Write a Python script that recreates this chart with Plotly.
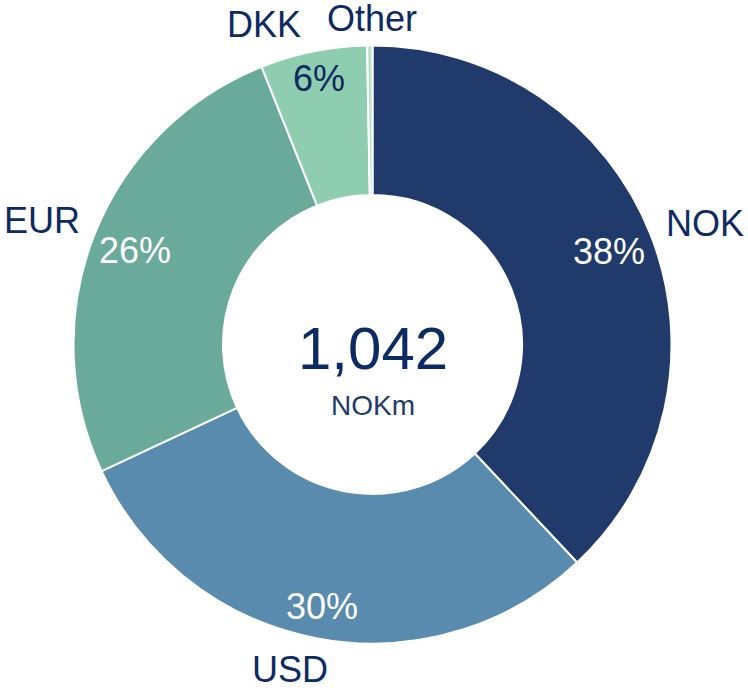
import math
import plotly.graph_objects as go

# ---- data ----
categories = ["NOK", "USD", "EUR", "DKK", "Other"]
values_nokm = [396, 313, 270, 60, 3]
pct_labels = ["38%", "30%", "26%", "6%", ""]
total_label = "1,042"
unit_label = "NOKm"

# ---- styles ----
colors = ["#1F3A6B", "#598BAE", "#6AAA9B", "#8ECDB0", "#B9E0C8"]
pct_colors = ["white", "white", "white", "#0E2A60", "white"]
label_color = "#0C2A64"
FONT = "Liberation Sans, Arial, sans-serif"

W, H = 748, 688
CX, CY, R = 372.5, 344.5, 299.0

# per-label placement tweaks (radius in px, angle offset in deg)
label_r = [354, 335, 353, 338, 326]
label_da = [1.6, 3.4, -1.0, -7.3, 0.4]
pct_r = [254, 267, 255, 271, 0]

fig = go.Figure()
fig.add_trace(go.Pie(
    labels=categories,
    values=values_nokm,
    hole=0.5,
    sort=False,
    direction="clockwise",
    rotation=0,
    marker=dict(colors=colors, line=dict(color="white", width=2)),
    textinfo="none",
    hoverinfo="label+percent",
    showlegend=False,
    domain=dict(x=[(CX - R) / W, (CX + R) / W],
                y=[1 - (CY + R) / H, 1 - (CY - R) / H]),
))

total = sum(values_nokm)
cum = 0.0
annotations = []
for i, (cat, v) in enumerate(zip(categories, values_nokm)):
    mid = (cum + v / 2) / total * 360.0
    cum += v
    a = math.radians(mid + label_da[i])
    px = CX + label_r[i] * math.sin(a)
    py = CY - label_r[i] * math.cos(a)
    annotations.append(dict(x=px / W, y=1 - py / H, xref="paper", yref="paper",
                            text=cat, showarrow=False, xanchor="center", yanchor="middle",
                            font=dict(family=FONT, size=36, color=label_color)))
    if pct_labels[i]:
        a2 = math.radians(mid)
        qx = CX + pct_r[i] * math.sin(a2)
        qy = CY - pct_r[i] * math.cos(a2)
        annotations.append(dict(x=qx / W, y=1 - qy / H, xref="paper", yref="paper",
                                text=pct_labels[i], showarrow=False, xanchor="center", yanchor="middle",
                                font=dict(family=FONT, size=36, color=pct_colors[i])))

annotations.append(dict(x=CX / W, y=1 - 348 / H, xref="paper", yref="paper",
                        text=total_label, showarrow=False, xanchor="center", yanchor="middle",
                        font=dict(family=FONT, size=60, color="#0C2A64")))
annotations.append(dict(x=CX / W, y=1 - 405 / H, xref="paper", yref="paper",
                        text=unit_label, showarrow=False, xanchor="center", yanchor="middle",
                        font=dict(family=FONT, size=28, color="#1F3A6B")))

fig.update_layout(
    width=W, height=H,
    margin=dict(l=0, r=0, t=0, b=0),
    paper_bgcolor="white", plot_bgcolor="white",
    annotations=annotations,
)

fig.write_html("out.html",
               config={"displayModeBar": False},
               post_script="document.body.style.margin='0';document.body.style.overflow='hidden';")
